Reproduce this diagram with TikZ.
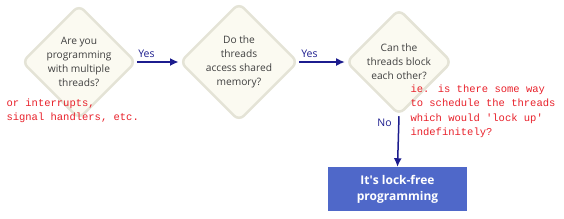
\documentclass[tikz,border=0pt]{standalone}
\usepackage{fontspec}
\setmainfont{Open Sans}
\newfontfamily\handfont{Liberation Mono}
\usetikzlibrary{shapes.geometric}
\usetikzlibrary{arrows.meta}

\definecolor{boxfill}{HTML}{FBFAF1}
\definecolor{boxline}{HTML}{E4E3D6}
\definecolor{flowline}{HTML}{1C1C8E}
\definecolor{endfill}{HTML}{4F68C9}
\definecolor{notered}{HTML}{E8202A}
\definecolor{qtext}{HTML}{404040}

\begin{document}
\begin{tikzpicture}[x=1pt, y=-1pt,
    question/.style={diamond, draw=boxline, line width=2.5pt, fill=boxfill,
      rounded corners=7pt, minimum width=106pt, minimum height=106pt,
      inner sep=0pt, text=qtext, align=center,
      font=\fontsize{10.2}{14}\selectfont},
    flow/.style={flowline, line width=1.5pt, -{Latex[length=3mm, width=2.8mm]}},
    answer/.style={flowline, font=\fontsize{10.5}{12}\selectfont},
    note/.style={notered, align=left, font=\handfont\fontsize{10.5}{14.5}\selectfont}]
    \useasboundingbox (0, 0) rectangle (564, 218);
    
    \node[question] (many) at (79, 62) {Are you\\programming\\with multiple\\threads?};
    \node[question] (shared) at (239, 62) {Do the\\threads\\access shared\\memory?};
    \node[question] (block) at (399, 62) {Can the\\threads block\\each other?};
    
    \node[fill=endfill, text=white, minimum width=139pt, minimum height=44pt,
      align=center, font=\bfseries\fontsize{12}{16}\selectfont]
      (lockfree) at (397.5, 189) {It\textquotesingle s lock-free\\programming};
    
    \draw[flow] (many.east) -- node[answer, above, pos=0.22] {Yes} (shared.west);
    \draw[flow] (shared.east) -- node[answer, above, pos=0.22] {Yes} (block.west);
    \draw[flow] (block.south) -- node[answer, left=3pt, pos=0.12] {No} (lockfree.north);
    
    % remarks written by hand
    \node[note, anchor=north west] (irq) at (3, 95) {or interrupts,\\signal handlers, etc.};
    \node[note, anchor=north west] (lockup) at (407, 81)
      {ie. is there some way\\to schedule the threads\\which would \textquotesingle lock up\textquotesingle\\indefinitely?};
    
\end{tikzpicture}
\end{document}
